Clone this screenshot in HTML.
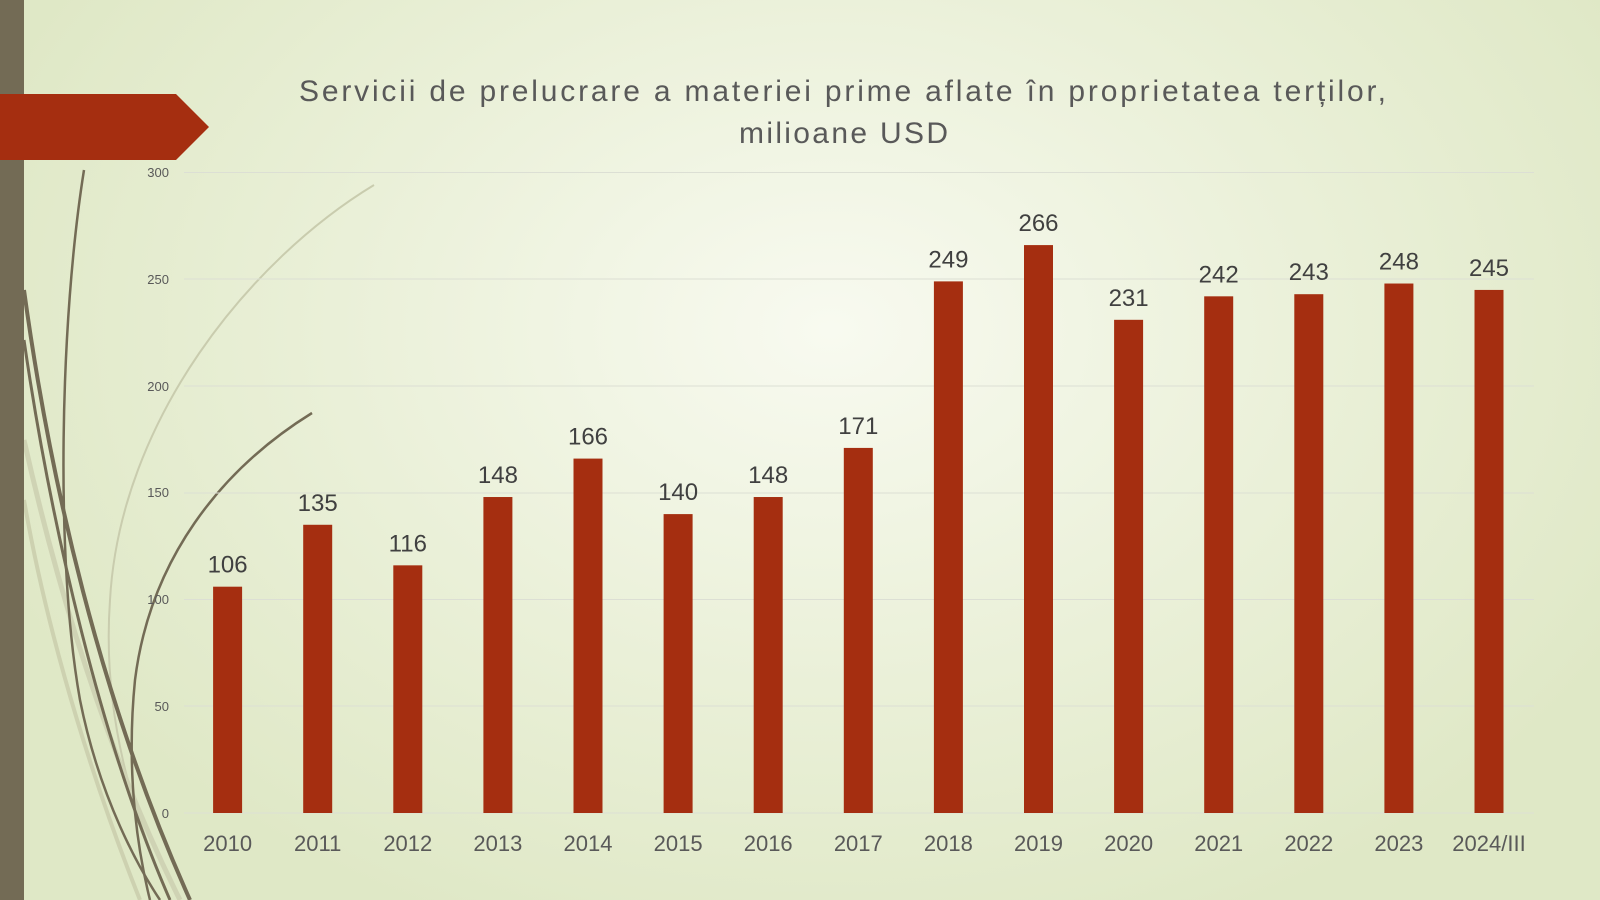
<!DOCTYPE html>
<html><head><meta charset="utf-8"><style>
body{margin:0;width:1600px;height:900px;overflow:hidden;background:radial-gradient(ellipse 900px 650px at 830px 330px,#f8faf0 0%,#eaf0d8 55%,#dfe8c6 100%);font-family:"Liberation Sans",sans-serif;}
svg{position:absolute;left:0;top:0}
</style></head><body>
<svg width="1600" height="900" viewBox="0 0 1600 900">
<g fill="none">
<path d="M374 185 C250 260 120 420 110 600 C100 740 150 850 170 900" stroke="#c9ccae" stroke-width="2"/>
<path d="M24 440 C60 600 110 760 180 900" stroke="#cfd3b4" stroke-width="5"/>
<path d="M24 500 C50 650 100 800 140 900" stroke="#cdd1b0" stroke-width="4"/>
<path d="M84 170 C60 320 55 560 80 700 C100 800 140 870 160 900" stroke="#736b55" stroke-width="2.5"/>
<path d="M24 290 C50 480 100 700 190 900" stroke="#736b55" stroke-width="4"/>
<path d="M24 340 C50 520 100 740 170 900" stroke="#736b55" stroke-width="3"/>
<path d="M312 413 C220 470 150 560 135 680 C125 780 140 860 150 900" stroke="#736b55" stroke-width="2.5"/>
</g>
<rect x="0" y="0" width="24" height="900" fill="#736b55"/>
<polygon points="0,94 176,94 209,127 176,160 0,160" fill="#a52e10"/>
<g stroke="#dcdfd4" stroke-width="1">
<line x1="184" y1="172.5" x2="1534" y2="172.5"/><line x1="184" y1="279" x2="1534" y2="279"/>
<line x1="184" y1="386" x2="1534" y2="386"/><line x1="184" y1="493" x2="1534" y2="493"/>
<line x1="184" y1="599.5" x2="1534" y2="599.5"/><line x1="184" y1="706" x2="1534" y2="706"/>
<line x1="184" y1="813" x2="1534" y2="813"/>
</g>
<g font-size="13" fill="#595959" text-anchor="end">
<text x="169" y="177">300</text><text x="169" y="284">250</text><text x="169" y="391">200</text>
<text x="169" y="497">150</text><text x="169" y="604">100</text><text x="169" y="711">50</text><text x="169" y="818">0</text>
</g>
<g font-size="30" fill="#595959">
<text x="299" y="101" textLength="1087" lengthAdjust="spacing">Servicii de prelucrare a materiei prime aflate în proprietatea terților,</text>
<text x="739" y="143" textLength="209" lengthAdjust="spacing">milioane USD</text>
</g>
<g id="bars"></g>
</svg>
<script>
var v=[106,135,116,148,166,140,148,171,249,266,231,242,243,248,245];
var l=["2010","2011","2012","2013","2014","2015","2016","2017","2018","2019","2020","2021","2022","2023","2024/III"];
var g=document.getElementById("bars"),s="";
for(var i=0;i<15;i++){var cx=227.6+i*90.1,h=v[i]*2.135,y=813-h;
s+='<rect x="'+(cx-14.5)+'" y="'+y+'" width="29" height="'+h+'" fill="#a52e10"/>';
s+='<text x="'+cx+'" y="'+(y-14)+'" font-size="24" fill="#404040" text-anchor="middle">'+v[i]+'</text>';
s+='<text x="'+cx+'" y="851" font-size="22" fill="#595959" text-anchor="middle">'+l[i]+'</text>';}
g.innerHTML=s;
</script>
</body></html>
